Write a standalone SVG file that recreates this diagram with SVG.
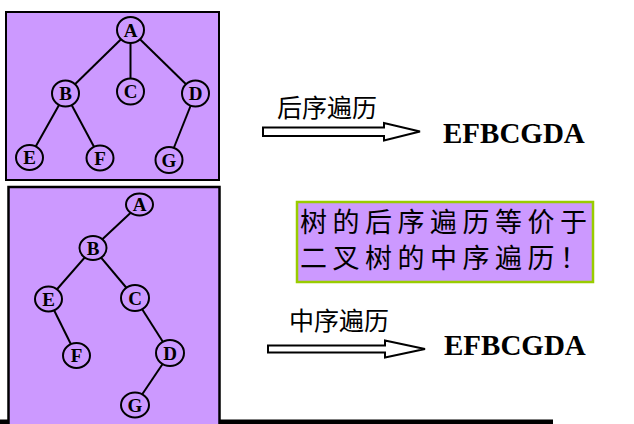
<svg xmlns="http://www.w3.org/2000/svg" width="634" height="424" viewBox="0 0 634 424">
<style>
.box{fill:#CC99FF;stroke:#000;}
.edge{stroke:#000;stroke-width:2;fill:none;}
.node ellipse{fill:#CC99FF;stroke:#000;stroke-width:2;}
.node text{font-family:"Liberation Serif","Times New Roman",serif;font-weight:bold;font-size:19px;text-anchor:middle;fill:#000;}
.cn{font-family:"Noto Sans CJK SC",sans-serif;fill:#000;}
.seq{font-family:"Liberation Serif","Times New Roman",serif;font-weight:bold;font-size:29px;fill:#000;}
.arrow{fill:#fff;stroke:#000;stroke-width:2;stroke-linejoin:miter;}
</style>
<rect width="634" height="424" fill="#fff"/>
<!-- bottom thick line -->
<rect x="0" y="419.5" width="553" height="5" fill="#000"/>
<!-- top box -->
<rect class="box" x="6" y="12" width="213" height="168" stroke-width="2"/>
<!-- bottom box -->
<rect class="box" x="8.5" y="187" width="211" height="260" stroke-width="2.5"/>

<g id="edges">
  <line class="edge" x1="130.5" y1="30" x2="65.5" y2="93.5"/>
  <line class="edge" x1="130.5" y1="30" x2="130.5" y2="91.5"/>
  <line class="edge" x1="130.5" y1="30" x2="195.5" y2="93.5"/>
  <line class="edge" x1="65.5" y1="93.5" x2="29.5" y2="157.5"/>
  <line class="edge" x1="65.5" y1="93.5" x2="100" y2="158"/>
  <line class="edge" x1="195.5" y1="93.5" x2="169" y2="160"/>

  <line class="edge" x1="139.5" y1="204.5" x2="93" y2="248"/>
  <line class="edge" x1="93" y1="248" x2="48.5" y2="299"/>
  <line class="edge" x1="93" y1="248" x2="135" y2="298"/>
  <line class="edge" x1="48.5" y1="299" x2="76.5" y2="355.5"/>
  <line class="edge" x1="135" y1="298" x2="170" y2="353"/>
  <line class="edge" x1="170" y1="353" x2="135" y2="405"/>
</g>

<g id="t1A" class="node"><ellipse cx="130.5" cy="30" rx="13.5" ry="13"/><text x="130.5" y="36.5">A</text></g>
<g id="t1B" class="node"><ellipse cx="65.5" cy="93.5" rx="13.5" ry="13"/><text x="65.5" y="100">B</text></g>
<g id="t1C" class="node"><ellipse cx="130.5" cy="91.5" rx="13.5" ry="13"/><text x="130.5" y="98">C</text></g>
<g id="t1D" class="node"><ellipse cx="195.5" cy="93.5" rx="13.5" ry="13"/><text x="195.5" y="100">D</text></g>
<g id="t1E" class="node"><ellipse cx="29.5" cy="157.5" rx="13.5" ry="12.5"/><text x="29.5" y="164">E</text></g>
<g id="t1F" class="node"><ellipse cx="100" cy="158" rx="13.5" ry="12.5"/><text x="100" y="164.5">F</text></g>
<g id="t1G" class="node"><ellipse cx="169" cy="160" rx="13.5" ry="13"/><text x="169" y="166.5">G</text></g>

<g id="t2A" class="node"><ellipse cx="139.5" cy="204.5" rx="13.5" ry="11"/><text x="139.5" y="211">A</text></g>
<g id="t2B" class="node"><ellipse cx="93" cy="248" rx="13.5" ry="12"/><text x="93" y="254.5">B</text></g>
<g id="t2E" class="node"><ellipse cx="48.5" cy="299" rx="13.5" ry="12.5"/><text x="48.5" y="305.5">E</text></g>
<g id="t2C" class="node"><ellipse cx="135" cy="298" rx="14" ry="13"/><text x="135" y="304.5">C</text></g>
<g id="t2F" class="node"><ellipse cx="76.5" cy="355.5" rx="13.5" ry="12.5"/><text x="76.5" y="362">F</text></g>
<g id="t2D" class="node"><ellipse cx="170" cy="353" rx="14" ry="13"/><text x="170" y="359.5">D</text></g>
<g id="t2G" class="node"><ellipse cx="135" cy="405" rx="14" ry="12.5"/><text x="135" y="411.5">G</text></g>

<g id="post">
  <text class="cn" x="277" y="117" font-size="25">后序遍历</text>
  <polygon class="arrow" points="263,127.5 384,127.5 384,123 420,131.5 384,140.5 384,136 263,136"/>
  <text class="seq" x="443" y="143">EFBCGDA</text>
</g>

<g id="note">
  <rect x="297" y="202" width="296" height="80" fill="#CC99FF" stroke="#99CC00" stroke-width="2.5"/>
  <text class="cn" x="300" y="232" font-size="27" letter-spacing="5.5">树的后序遍历等价于</text>
  <text class="cn" x="300" y="268" font-size="27" letter-spacing="5.5">二叉树的中序遍历！</text>
</g>

<g id="in">
  <text class="cn" x="289" y="330" font-size="25">中序遍历</text>
  <polygon class="arrow" points="268,345.5 385,345.5 385,340.5 425,349 385,357.5 385,352.5 268,352.5"/>
  <text class="seq" x="444" y="355">EFBCGDA</text>
</g>
</svg>
